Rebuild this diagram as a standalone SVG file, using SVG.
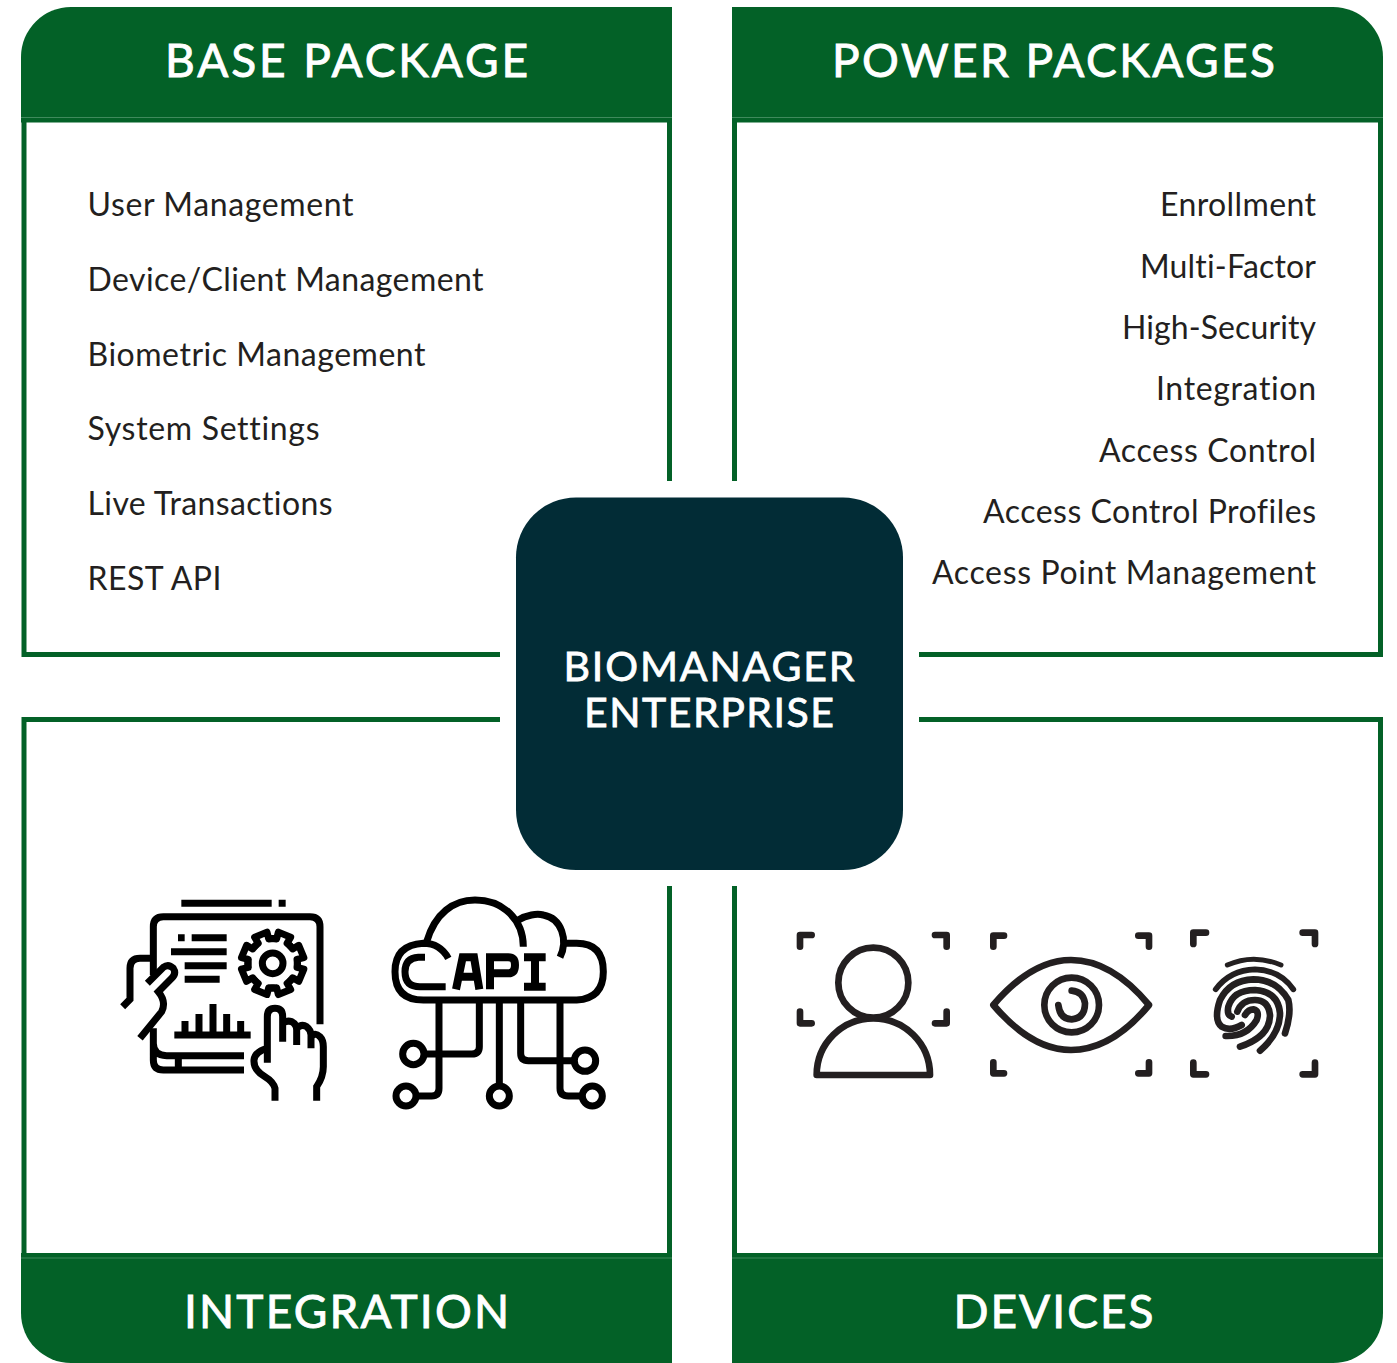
<svg xmlns="http://www.w3.org/2000/svg" xmlns:xlink="http://www.w3.org/1999/xlink" width="1397" height="1363" viewBox="0 0 1397 1363">
<defs>
<path id="tooth" d="M-30,-68 L-17,-72 L-20,-93 L20,-93 L17,-72 L30,-68"/>
</defs>
<style>
.band{fill:#036127}
.seam{stroke:#3f8a5c;stroke-width:1;fill:none}
.edge{stroke:#036127;stroke-width:5;fill:none}
.head{font-family:Lato,"Open Sans",sans-serif;font-size:46px;fill:#fff;stroke:#fff;stroke-width:.9;text-anchor:middle;font-variant-ligatures:none}
.item{font-family:Lato,"Open Sans",sans-serif;font-size:32px;fill:#231f20;font-variant-ligatures:none}
.end{text-anchor:end}
.core{font-family:Lato,"Open Sans",sans-serif;font-size:41px;fill:#fff;stroke:#fff;stroke-width:.8;text-anchor:middle;font-variant-ligatures:none}
.ic{fill:none;stroke:#000;stroke-width:21}
.ir{fill:none;stroke:#231f20;stroke-width:20;stroke-linecap:round;stroke-linejoin:round}
</style>
<rect width="1397" height="1363" fill="#fff"/>
<g id="connectors">
<path class="edge" d="M24,118V654.500H500"/>
<path class="edge" d="M669.500,118V481"/>
<path class="edge" d="M734.500,118V481"/>
<path class="edge" d="M1380.500,118V654.500H919"/>
<path class="edge" d="M500,719.500H24V1255"/>
<path class="edge" d="M669.500,886V1255"/>
<path class="edge" d="M734.500,886V1255"/>
<path class="edge" d="M919,719.500H1380.500V1255"/>
</g>
<g id="base-package">
<path class="band" d="M21,122.500V57A50,50 0 0 1 71,7H672V122.500Z"/>
<path class="seam" d="M21,117.500H672"/>
<text class="head" x="346.500" y="77" textLength="363" lengthAdjust="spacing">BASE PACKAGE</text>
<text class="item" x="87.500" y="216" textLength="266" lengthAdjust="spacing">User Management</text>
<text class="item" x="87.500" y="291" textLength="396" lengthAdjust="spacing">Device/Client Management</text>
<text class="item" x="87.500" y="366" textLength="338" lengthAdjust="spacing">Biometric Management</text>
<text class="item" x="87.500" y="440" textLength="232" lengthAdjust="spacing">System Settings</text>
<text class="item" x="87.500" y="515" textLength="245" lengthAdjust="spacing">Live Transactions</text>
<text class="item" x="87.500" y="590" textLength="134" lengthAdjust="spacing">REST API</text>
</g>
<g id="power-packages">
<path class="band" d="M732,7H1333A50,50 0 0 1 1383,57V122.500H732Z"/>
<path class="seam" d="M732,117.500H1383"/>
<text class="head" x="1053.500" y="77" textLength="443" lengthAdjust="spacing">POWER PACKAGES</text>
<text class="item end" x="1316" y="216" textLength="156" lengthAdjust="spacing">Enrollment</text>
<text class="item end" x="1316" y="278" textLength="176" lengthAdjust="spacing">Multi-Factor</text>
<text class="item end" x="1316" y="339" textLength="194" lengthAdjust="spacing">High-Security</text>
<text class="item end" x="1316" y="400" textLength="160" lengthAdjust="spacing">Integration</text>
<text class="item end" x="1316" y="462" textLength="217" lengthAdjust="spacing">Access Control</text>
<text class="item end" x="1316" y="523" textLength="333" lengthAdjust="spacing">Access Control Profiles</text>
<text class="item end" x="1316" y="584" textLength="384" lengthAdjust="spacing">Access Point Management</text>
</g>
<g id="integration">
<path class="band" d="M21,1253H672V1363H71A50,50 0 0 1 21,1313Z"/>
<path class="seam" d="M21,1258H672"/>
<text class="head" x="346.500" y="1328" textLength="325" lengthAdjust="spacing">INTEGRATION</text>
<g id="icon-settings" transform="translate(110,880) scale(.33333)" class="ic">
<path d="M214,70H485M506,70H527"/>
<path d="M130,285V140Q130,110 160,110H600Q630,110 630,140V433"/>
<path d="M204,173H224M245,173H350M183,215H350M224,257H350M224,298H329"/>
<g transform="translate(488,250)" stroke-linejoin="round" stroke-linecap="round">
<use xlink:href="#tooth" transform="rotate(22.500)"/><use xlink:href="#tooth" transform="rotate(67.500)"/><use xlink:href="#tooth" transform="rotate(112.500)"/><use xlink:href="#tooth" transform="rotate(157.500)"/><use xlink:href="#tooth" transform="rotate(202.500)"/><use xlink:href="#tooth" transform="rotate(247.500)"/><use xlink:href="#tooth" transform="rotate(292.500)"/><use xlink:href="#tooth" transform="rotate(337.500)"/>
<circle r="31"/>
</g>
<path d="M193,465H422M225,465V423M267,465V402M309,465V372M350,465V402M392,465V423"/>
<path d="M130,445V540Q130,570 160,570H402M130,490Q130,527 170,527H402M205,527V570"/>
<path d="M38,380L60,358V265Q60,235 90,235H130"/>
<path d="M112,310L160,262Q175,250 190,265Q200,280 185,295L145,335Q170,365 155,395L90,475"/>
<path d="M495,662V625Q490,605 465,590Q430,570 432,540Q435,515 472,505"/>
<path d="M472,548V410Q472,385 495,385Q518,385 518,410V485"/>
<path d="M518,430Q530,420 545,425Q560,433 560,450V495"/>
<path d="M560,445Q575,430 590,440Q603,450 603,465V505"/>
<path d="M603,470Q615,455 630,470Q640,480 640,500V560Q640,590 620,620V662"/>
</g>
<g id="icon-api" transform="translate(380,880) scale(.33333)" class="ic">
<path d="M205,235Q180,190 130,190Q45,195 45,275Q45,360 130,360H590Q670,355 670,275Q670,190 590,190H555"/>
<path d="M140,185C165,100 220,60 285,60C370,60 430,120 430,200"/>
<path d="M415,120C440,105 470,100 490,105C545,115 565,180 540,232"/>
<path d="M135,232H115Q75,235 75,275Q75,320 120,320H197"/>
<path d="M228,328L248,232H282L298,328M235,290H292" stroke-width="24"/>
<path d="M330,328V232H385Q405,232 405,255Q405,280 385,280H330" stroke-width="24"/>
<path d="M432,232H497M465,232V320M432,320H497" stroke-width="24"/>
<path d="M177,360V625Q177,648 155,648H108"/>
<circle cx="78" cy="648" r="30"/>
<path d="M298,360V500Q298,522 275,522H132"/>
<circle cx="100" cy="522" r="32"/>
<path d="M358,360V618"/>
<circle cx="358" cy="648" r="30"/>
<path d="M422,360V520Q422,542 445,542H583"/>
<circle cx="615" cy="542" r="32"/>
<path d="M540,360V625Q540,648 565,648H607"/>
<circle cx="637" cy="648" r="30"/>
</g>
</g>
<g id="devices">
<path class="band" d="M732,1253H1383V1313A50,50 0 0 1 1333,1363H732Z"/>
<path class="seam" d="M732,1258H1383"/>
<text class="head" x="1053.500" y="1328" textLength="200" lengthAdjust="spacing">DEVICES</text>
<g id="icon-face" transform="translate(785,920) scale(.33333)" class="ir">
<circle cx="265" cy="188" r="105"/>
<path d="M95,465A170,170 0 0 1 435,465Z"/>
<path d="M45,80V45H80M450,45H485V80M45,275V310H80M450,310H485V275"/>
</g>
<g id="icon-eye" transform="translate(785,920) scale(.33333)" class="ir">
<path d="M625,255Q740,120 858,120Q980,120 1092,255Q980,390 858,390Q740,390 625,255Z"/>
<circle cx="860" cy="255" r="82"/>
<path d="M820,255Q825,298 860,298Q900,295 900,250Q895,215 860,212"/>
<path d="M625,80V47H657M1060,47H1092V80M625,427V460H657M1060,460H1092V427"/>
</g>
<g id="icon-fingerprint" transform="translate(1180,920) scale(.33333)" fill="none" stroke="#231f20" stroke-width="20" stroke-linecap="round" stroke-linejoin="round">
<path d="M40,72V38H78M368,38H405V72M40,428V463H78M368,463H405V428"/>
<path d="M142,135Q220,100 303,135" stroke-width="15"/>
<path d="M107,208Q150,150 225,148Q300,150 340,208" stroke-width="17"/>
<path d="M315,340Q335,280 325,240Q290,178 220,178Q150,180 120,240Q100,300 125,320Q150,335 185,315"/>
<path d="M240,392Q300,340 300,280Q295,215 225,210Q160,210 145,260Q140,285 155,290"/>
<path d="M180,380Q270,350 270,285Q265,240 225,240Q185,240 172,275"/>
<path d="M137,348Q200,350 230,300Q240,272 220,268Q205,268 195,285"/>
</g>
</g>
<g id="biomanager-enterprise">
<rect x="516" y="497.500" width="387" height="372.500" rx="60" fill="#022c36"/>
<text class="core" x="709" y="681" textLength="291" lengthAdjust="spacing">BIOMANAGER</text>
<text class="core" x="709" y="727" textLength="250" lengthAdjust="spacing">ENTERPRISE</text>
</g>
</svg>
